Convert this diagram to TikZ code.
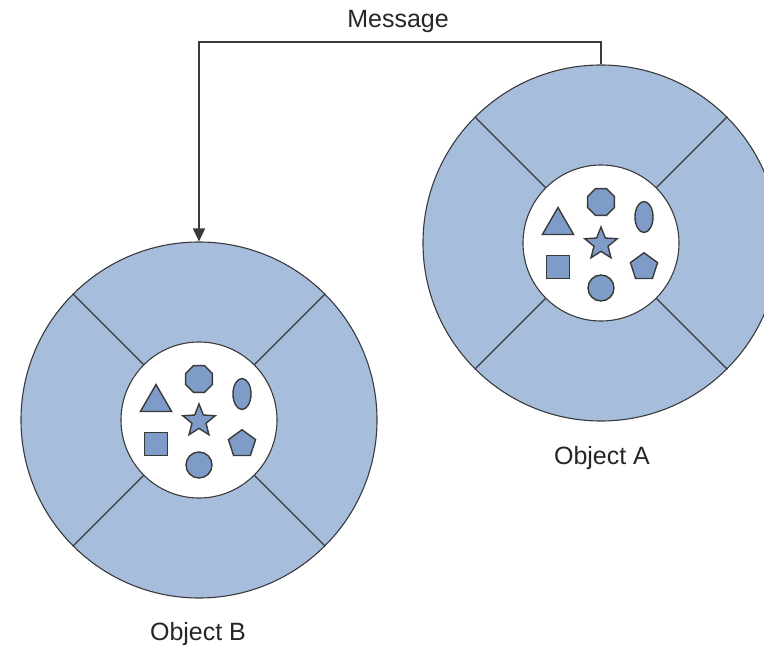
\documentclass[tikz,border=0pt]{standalone}
\usepackage{fontspec}
\setmainfont{Liberation Sans}
\usetikzlibrary{shapes.geometric,arrows.meta,calc}

\definecolor{ringblue}{HTML}{A6BEDC}
\definecolor{shapeblue}{HTML}{7F9CC8}
\definecolor{edgegray}{HTML}{3A3A3A}

\tikzset{
  outerring/.style={circle, draw=edgegray, line width=1.1pt, fill=ringblue,
    minimum size=356pt, inner sep=0pt},
  core/.style={circle, draw=edgegray, line width=1.1pt, fill=white,
    minimum size=156pt, inner sep=0pt},
  divider/.style={draw=edgegray, line width=1.4pt},
  token/.style={draw=edgegray, line width=1.4pt, fill=shapeblue, inner sep=0pt},
  tri/.style={token, regular polygon, regular polygon sides=3, minimum size=36pt},
  octa/.style={token, regular polygon, regular polygon sides=8, minimum size=29pt},
  penta/.style={token, regular polygon, regular polygon sides=5, minimum size=28.5pt},
  starry/.style={token, star, star points=5, star point ratio=2.3, minimum size=34pt},
  oval/.style={token, ellipse, minimum width=18pt, minimum height=31pt},
  sq/.style={token, rectangle, minimum size=23.5pt},
  dot/.style={token, circle, minimum size=26pt},
  caption/.style={font=\fontsize{25}{30}\selectfont, text=black!85},
  msg/.style={draw=edgegray, line width=1.8pt, -{Triangle[width=12pt,length=13pt]}}
}

% one object: outer ring, white core, four dividers and the seven tokens
\newcommand{\objectring}[3]{%
  \node[outerring] (#1) at (#2,#3) {};
  \node[core] (#1c) at (#2,#3) {};
  \foreach \ang in {45,135,225,315}
    \draw[divider] (#1c.\ang) -- (#1.\ang);
  \node[tri]    (#1tri) at ($(#2,#3)+(-43,-17.5)$) {};
  \node[octa]   (#1oct) at ($(#2,#3)+(0,-41)$) {};
  \node[oval]   (#1ell) at ($(#2,#3)+(43,-26)$) {};
  \node[starry] (#1sta) at ($(#2,#3)+(0,1)$) {};
  \node[sq]     (#1squ) at ($(#2,#3)+(-43,24)$) {};
  \node[dot]    (#1cir) at ($(#2,#3)+(0,45)$) {};
  \node[penta]  (#1pen) at ($(#2,#3)+(43,24)$) {};
}

\begin{document}
\begin{tikzpicture}[x=1pt, y=-1pt]
  \useasboundingbox (0,0) rectangle (764,650);
  \clip (0,0) rectangle (764,650);

  \objectring{A}{601}{243}
  \objectring{B}{199}{420}

  \node[caption] (labA) at (602,458) {Object A};
  \node[caption] (labB) at (198,634) {Object B};

  \coordinate (msgtop) at (400,42);
  \draw[msg] (A.north) |- (msgtop) -| (B.north);
  \node[caption] (msglabel) at (398,21) {Message};
\end{tikzpicture}
\end{document}
